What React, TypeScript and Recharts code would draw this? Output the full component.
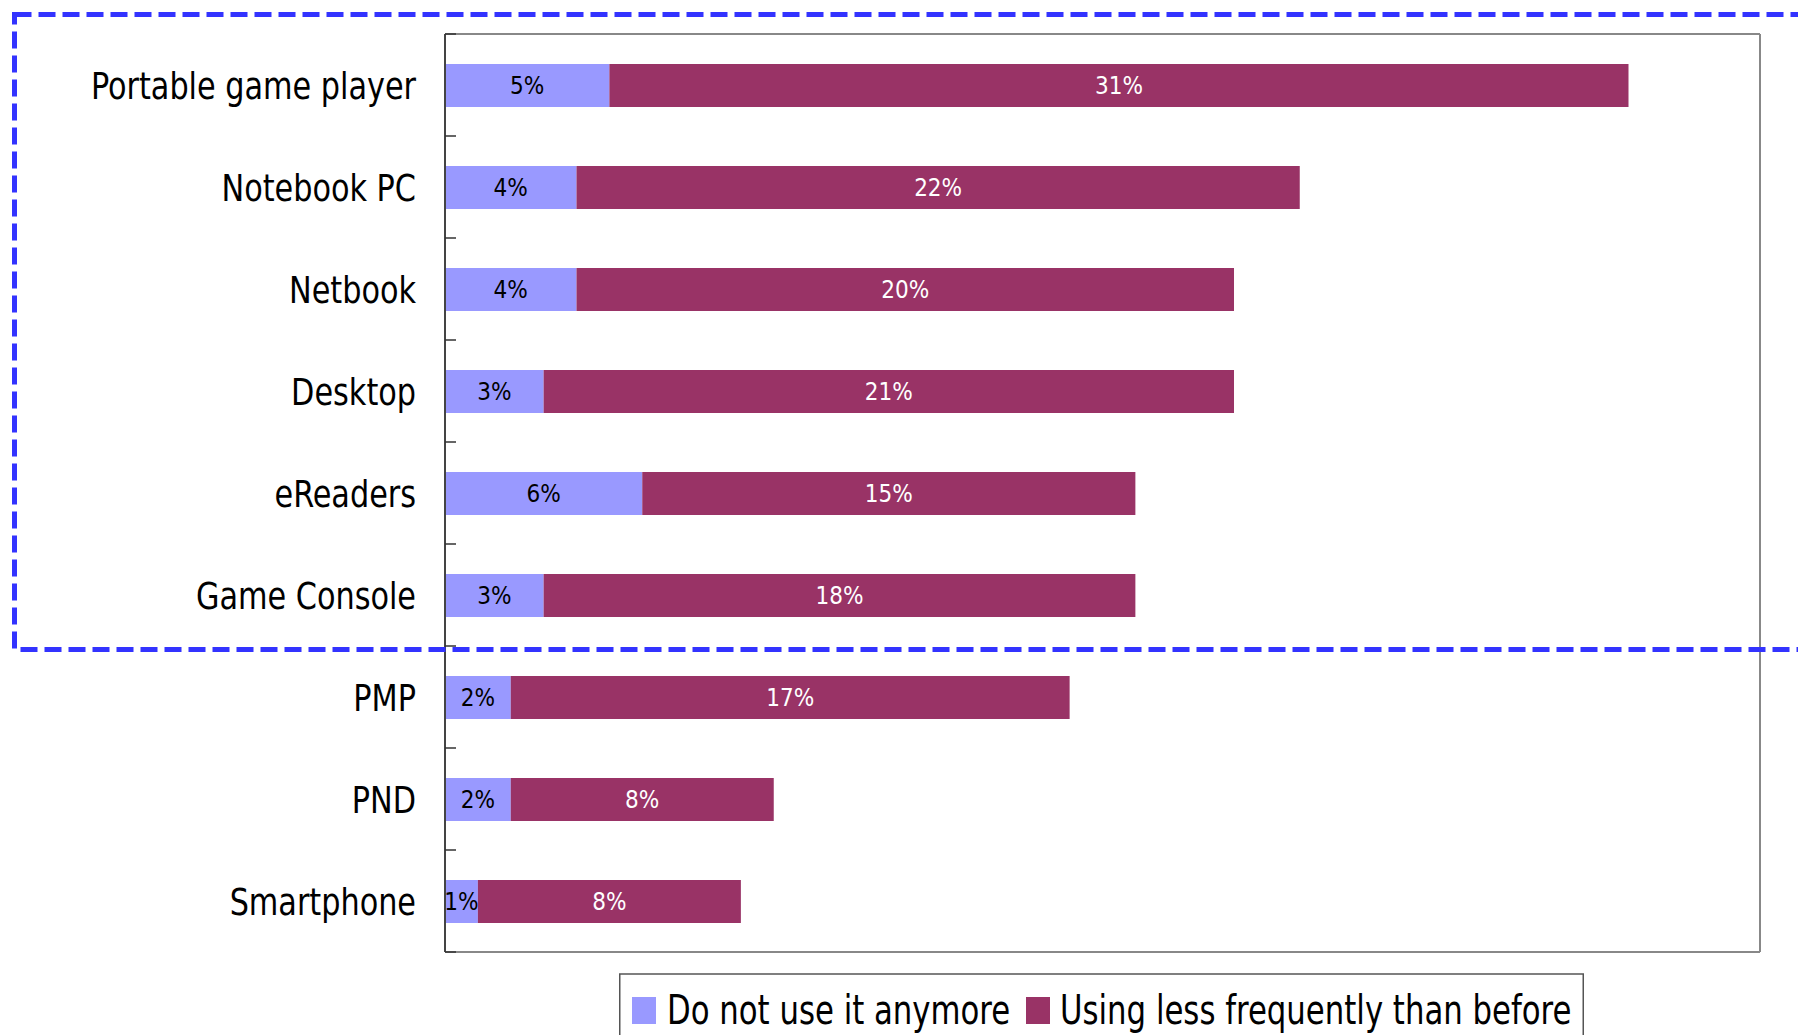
import React from 'react';
import { BarChart, Bar, XAxis, YAxis, LabelList, Legend } from 'recharts';

const categories = ['Portable game player', 'Notebook PC', 'Netbook', 'Desktop', 'eReaders', 'Game Console', 'PMP', 'PND', 'Smartphone'];
const notUsing = [5, 4, 4, 3, 6, 3, 2, 2, 1];
const lessFrequent = [31, 22, 20, 21, 15, 18, 17, 8, 8];
const seriesNames = ['Do not use it anymore', 'Using less frequently than before'];
const seriesColors = ['#9999FF', '#993366'];

const data = categories.map((c, i) => ({ name: c, a: notUsing[i], b: lessFrequent[i] }));

const FONT = "'DejaVu Sans Condensed', 'Liberation Sans Narrow', sans-serif";

const CategoryTick = (props: any) => {
  const { x, y, payload, index } = props;
  const off = payload && typeof payload.offset === 'number' ? payload.offset : 0;
  const axisX = x + 29;
  return (
    <g>
      <text
        transform={`translate(${x},${y + 1}) scale(0.91,1)`}
        x={0}
        y={0}
        textAnchor="end"
        dominantBaseline="central"
        fontSize={37}
        fontFamily={FONT}
        fill="#000"
        style={{ fontStretch: 'condensed' }}
      >
        {payload.value}
      </text>
      {index === 0 && <line x1={axisX} x2={axisX + 11} y1={y - off} y2={y - off} stroke="#333" strokeWidth={1.5} />}
      <line x1={axisX} x2={axisX + 11} y1={y + off} y2={y + off} stroke="#333" strokeWidth={1.5} />
    </g>
  );
};

const legendItems = [
  { sq: 13, tx: 48 },
  { sq: 407, tx: 441 },
];

const LegendContent = () => (
  <svg width={965} height={82} style={{ display: 'block' }}>
    <rect x={0.75} y={21} width={963.5} height={80} fill="#fff" stroke="#555" strokeWidth={1.5} />
    {seriesNames.map((n, i) => (
      <g key={n}>
        <rect x={legendItems[i].sq} y={23 + 21} width={24} height={27} fill={seriesColors[i]} />
        <text
          transform={`translate(${legendItems[i].tx},${50 + 21}) scale(0.855,1)`}
          x={0}
          y={0}
          fontSize={40}
          fontFamily={FONT}
          fill="#000"
          style={{ fontStretch: 'condensed' }}
        >
          {n}
        </text>
      </g>
    ))}
  </svg>
);

export default function App() {
  return (
    <div style={{ position: 'absolute', left: 0, top: 0, width: 1798, height: 1035, background: '#fff', overflow: 'hidden' }}>
      <BarChart
        width={1798}
        height={1035}
        data={data}
        layout="vertical"
        margin={{ top: 33, right: 37, bottom: 0, left: 0 }}
      >
        <XAxis type="number" domain={[0, 40]} ticks={[0, 40]} tick={false} tickLine={false} axisLine={{ stroke: '#888', strokeWidth: 2 }} height={1} />
        <XAxis xAxisId="top" orientation="top" type="number" domain={[0, 40]} tick={false} tickLine={false} axisLine={{ stroke: '#888', strokeWidth: 2 }} height={1} />
        <YAxis
          type="category"
          dataKey="name"
          width={445}
          tickSize={0}
          tickMargin={29}
          tickLine={false}
          axisLine={{ stroke: '#444', strokeWidth: 2 }}
          tick={<CategoryTick />}
          interval={0}
        />
        <YAxis yAxisId="right" orientation="right" type="category" dataKey="name" tick={false} tickLine={false} axisLine={{ stroke: '#888', strokeWidth: 2 }} width={1} />
        <Legend verticalAlign="bottom" wrapperStyle={{ left: 619, width: 965, bottom: 0 }} content={<LegendContent />} />
        <Bar dataKey="a" name={seriesNames[0]} stackId="s" fill={seriesColors[0]} barSize={43} isAnimationActive={false}>
          <LabelList dataKey="a" position="center" formatter={(v: any) => `${v}%`} fill="#000" fontSize={24} fontFamily={FONT} style={{ fontStretch: 'condensed' }} />
        </Bar>
        <Bar dataKey="b" name={seriesNames[1]} stackId="s" fill={seriesColors[1]} barSize={43} isAnimationActive={false}>
          <LabelList dataKey="b" position="center" formatter={(v: any) => `${v}%`} fill="#fff" fontSize={24} fontFamily={FONT} style={{ fontStretch: 'condensed' }} />
        </Bar>
      </BarChart>
      <svg width={1798} height={1035} style={{ position: 'absolute', left: 0, top: 0, pointerEvents: 'none' }}>
        <rect x={14.5} y={14.5} width={1830} height={635} fill="none" stroke="#3333FF" strokeWidth={5} strokeDasharray="17 7" />
      </svg>
    </div>
  );
}
